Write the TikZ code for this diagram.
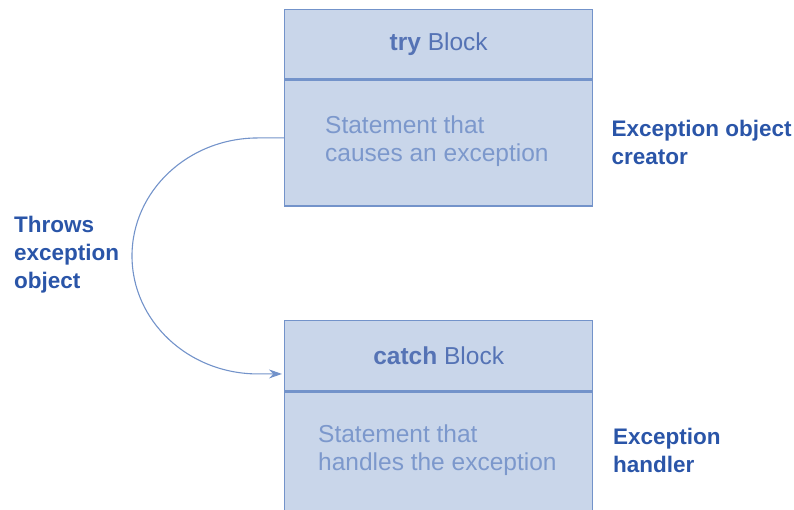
\documentclass[tikz,border=0pt]{standalone}
\usepackage{fontspec}
\setmainfont{Liberation Sans}
\usetikzlibrary{arrows.meta,positioning}
\definecolor{boxfill}{HTML}{C9D6EA}
\definecolor{boxline}{HTML}{7393CA}
\definecolor{boxtext}{HTML}{7C98CC}
\definecolor{headtext}{HTML}{5573B5}
\definecolor{labeltext}{HTML}{2A55A8}
\tikzset{
  >={Stealth[length=13pt,width=9pt]},
  head/.style={draw=boxline,fill=boxfill,line width=1.3pt,minimum width=308pt,minimum height=69pt,inner sep=0pt,text=headtext,font=\fontsize{24.5}{28}\selectfont},
  body/.style={draw=boxline,fill=boxfill,line width=1.3pt,minimum width=308pt,inner sep=0pt},
  stmt/.style={align=left,inner sep=0pt,text=boxtext,font=\fontsize{24.5}{28}\selectfont},
  lbl/.style={align=left,inner sep=0pt,text=labeltext,font=\fontsize{22.5}{28}\selectfont\bfseries},
  flow/.style={->,draw=boxline,line width=1.1pt,shorten >=2pt}
}
\begin{document}
\begin{tikzpicture}[x=1pt,y=1pt]
\clip (0,0) rectangle (794,510);
% try block
\node[head,anchor=north west](tryHead) at (284,501){\textbf{try} Block};
\node[body,minimum height=126pt,below=0pt of tryHead](tryBody){};
\node[stmt,anchor=west](tryStmt) at (325,369){Statement that\\causes an exception};
\node[lbl,right=18pt of tryBody](creator){Exception object\\creator};
% catch block
\node[head,minimum height=70pt,anchor=north west](catchHead) at (284,190){\textbf{catch} Block};
\node[body,minimum height=140pt,below=0pt of catchHead](catchBody){};
\node[stmt,anchor=west](catchStmt) at (318,60){Statement that\\handles the exception};
\node[lbl,anchor=west](handler) at (613,60){Exception\\handler};
% throw arc
\node[lbl,anchor=west](throws) at (14,255){Throws\\exception\\object};
\draw[flow]([yshift=5pt]tryBody.west) -- ++(-26,0) arc[start angle=90,end angle=270,x radius=126,y radius=118] coordinate(arcEnd) -- (arcEnd -| catchHead.west);
\end{tikzpicture}
\end{document}
